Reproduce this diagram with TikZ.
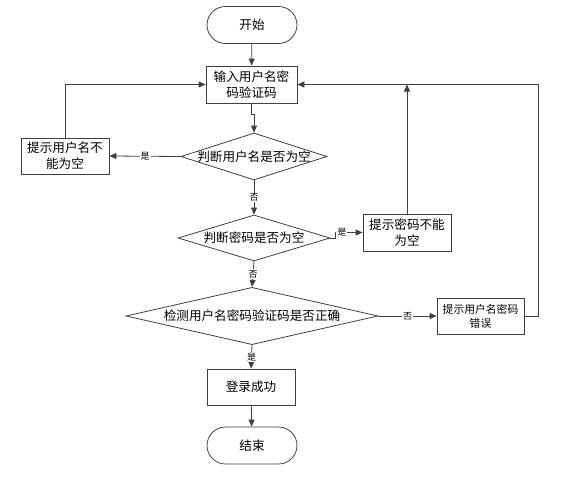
\documentclass[tikz,border=0pt]{standalone}
\usepackage{fontspec}
\setmainfont{Noto Sans CJK SC}
\usetikzlibrary{shapes.geometric,shapes.misc,arrows.meta,shadows}

\begin{document}
\begin{tikzpicture}[x=1pt,y=-1pt,%
  font=\fontsize{12.6}{16}\selectfont,%
  line/.style={draw=black!75,line width=0.8pt},%
  arr/.style={line,-{Triangle[length=7pt,width=6pt]}},%
  terminal/.style={rounded rectangle,draw=black!75,line width=0.8pt,%
  fill=white,minimum width=90pt,minimum height=37pt,inner sep=0pt},%
  process/.style={rectangle,draw=black!75,line width=0.8pt,fill=white,%
  minimum width=88pt,minimum height=36pt,inner sep=0pt,align=center,%
  drop shadow={shadow xshift=1.2pt,shadow yshift=-1.2pt,fill=black!20}},%
  decision/.style={diamond,draw=black!75,line width=0.8pt,fill=white,%
  inner xsep=-20pt,inner ysep=0pt,aspect=3},%
  lbl/.style={fill=white,inner sep=1pt,font=\fontsize{9}{9}\selectfont}]

  \useasboundingbox (0,0) rectangle (573,477);

  \node [terminal] (start) at (252,25) {开始};
  \node [process,minimum width=91pt,minimum height=37pt] (input) at (251.5,84.5)
    {输入用户名密\\码验证码};
  \node [decision,minimum width=146pt,minimum height=47pt] (userchk) at (254,156.5)
    {判断用户名是否为空};
  \node [process] (usermsg) at (65,156) {提示用户名不\\能为空};
  \node [decision,minimum width=152pt,minimum height=46pt] (pwdchk) at (254,238)
    {判断密码是否为空};
  \node [process,minimum height=37pt] (pwdmsg) at (407,232.5) {提示密码不能\\为空};
  \node [decision,minimum width=252pt,minimum height=55pt] (allchk) at (252,316)
    {检测用户名密码验证码是否正确};
  \node [process,minimum width=87pt,font=\fontsize{10.8}{14}\selectfont] (errmsg)
    at (480.5,316) {提示用户名密码\\错误};
  \node [process] (success) at (251,387) {登录成功};
  \node [terminal] (stop) at (252,445.5) {结束};

  \draw [arr] (start) -- (input);
  \draw [arr] (input.south) -- ++(0,11) -| (userchk.north);
  \draw [arr] (userchk.west) -- node [lbl] {是} (usermsg.east);
  \draw [arr] (usermsg.north) |- (input.west);
  \draw [arr] (userchk.south) -- node [lbl] {否} (pwdchk.north);
  \draw [arr] (pwdchk.east) -- ++(5,0) |- node [lbl,pos=0.62] {是} (pwdmsg.west);
  \draw [arr] (pwdmsg.north) -- (pwdmsg.north |- input.east);
  \draw [arr] (pwdchk.south) -- node [lbl] {否} (allchk.north);
  \draw [arr] (allchk.east) -- node [lbl] {否} (errmsg.west);
  \draw [arr] (errmsg.east) -- ++(14,0) |- (input.east);
  \draw [arr] (allchk.south) -- node [lbl] {是} (success.north);
  \draw [arr] (success) -- (stop);
\end{tikzpicture}
\end{document}
